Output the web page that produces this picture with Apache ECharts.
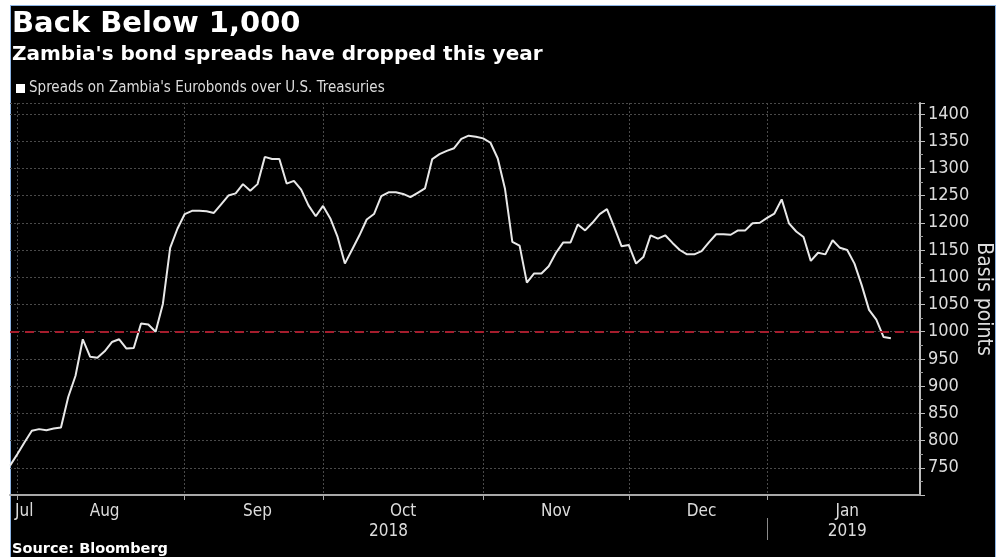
<!DOCTYPE html>
<html>
<head>
<meta charset="utf-8">
<script src="https://cdn.jsdelivr.net/npm/echarts@6/dist/echarts.min.js"></script>
<style>
html,body{margin:0;padding:0;background:#ffffff;}
#frame{position:absolute;left:10px;top:5px;width:984px;height:560px;background:#000;border-left:1px solid #8cb4e4;border-top:1px solid #8cb4e4;border-right:1px solid #8cb4e4;}
#c{position:absolute;left:0;top:0;width:1003px;height:557px;}
</style>
</head>
<body>
<div id="frame"></div>
<div id="c"></div>
<script>
// ---------- data ----------
const titleText = 'Back Below 1,000';
const subtitleText = "Zambia's bond spreads have dropped this year";
const seriesName = "Spreads on Zambia's Eurobonds over U.S. Treasuries";
const sourceText = 'Source: Bloomberg';
const axisName = 'Basis points';

// trading-day calendar (US bond market) used for the category axis
const firstDay = '2018-07-31';
const lastDay = '2019-02-01';
const holidays = ['2018-09-03','2018-10-08','2018-11-12','2018-11-22','2018-12-05','2018-12-25','2019-01-01','2019-01-21'];
const monthNames = ['Jan','Feb','Mar','Apr','May','Jun','Jul','Aug','Sep','Oct','Nov','Dec'];

// spread values (bp), one per trading day from 2018-07-31
const spreads = [
  754, 775, 797, 818, 821, 819, 822, 824, 880, 919,
  986, 954, 952, 964, 981, 986, 969, 970, 1015, 1013,
  1000, 1051, 1154, 1189, 1216, 1222, 1222, 1221, 1218, 1234,
  1250, 1254, 1271, 1259, 1271, 1321, 1317, 1317, 1272, 1277,
  1261, 1232, 1212, 1231, 1208, 1174, 1125, 1151, 1177, 1206,
  1216, 1249, 1256, 1256, 1253, 1247, 1255, 1263, 1317, 1326,
  1332, 1337, 1354, 1360, 1358, 1355, 1347, 1318, 1262, 1165,
  1158, 1090, 1107, 1107, 1120, 1145, 1164, 1164, 1197, 1186,
  1200, 1216, 1225, 1192, 1157, 1159, 1125, 1137, 1177, 1171,
  1177, 1163, 1150, 1142, 1142, 1148, 1164, 1179, 1179, 1178,
  1186, 1186, 1199, 1200, 1209, 1217, 1243, 1199, 1184, 1174,
  1130, 1145, 1142, 1168, 1154, 1150, 1125, 1085, 1040, 1022,
  990, 988
];
const thresholdValue = 1000;

// y axis ticks
const yMin = 700;
const yMax = 1420;
const yStep = 50;
const yFirstLabel = 750;
const yLastLabel = 1400;

// ---------- build categories ----------
function buildDays() {
  const out = [];
  let t = Date.parse(firstDay + 'T00:00:00Z');
  const end = Date.parse(lastDay + 'T00:00:00Z');
  while (t <= end) {
    const d = new Date(t);
    const s = d.toISOString().slice(0, 10);
    const w = d.getUTCDay();
    if (w !== 0 && w !== 6 && holidays.indexOf(s) < 0) out.push(s);
    t += 86400000;
  }
  return out;
}
const days = buildDays();
const N = days.length;

const monthStarts = [];
const yearStarts = [];
for (let i = 1; i < N - 1; i++) {
  if (days[i].slice(0, 7) !== days[i - 1].slice(0, 7)) monthStarts.push(i);
  if (days[i].slice(0, 4) !== days[i - 1].slice(0, 4)) yearStarts.push(i);
}
const monthStartSet = new Set(monthStarts);
const yearStartSet = new Set(yearStarts);

// month label positions: middle of each month segment
const monthLabelAt = {};
const segs = [0].concat(monthStarts).concat([N - 1]);
for (let k = 0; k < segs.length - 1; k++) {
  const a = segs[k], b = segs[k + 1];
  const idx = k === 0 ? 0 : Math.round((a + b) / 2);
  monthLabelAt[idx] = monthNames[parseInt(days[a].slice(5, 7), 10) - 1];
}
const yearLabelAt = {};
const ysegs = [0].concat(yearStarts).concat([N - 1]);
for (let k = 0; k < ysegs.length - 1; k++) {
  const a = ysegs[k], b = ysegs[k + 1];
  yearLabelAt[Math.round((a + b) / 2)] = days[a].slice(0, 4);
}

const narrow = "'Liberation Sans Narrow','DejaVu Sans Condensed','Roboto Condensed',sans-serif";
const boldFont = "'DejaVu Sans',Verdana,sans-serif";
const textCol = '#dcdcdc';

const chart = echarts.init(document.getElementById('c'), null, {renderer: 'canvas'});
chart.setOption({
  backgroundColor: 'transparent',
  animation: false,
  title: [
    {
      text: titleText,
      subtext: subtitleText,
      left: 12, top: 10, padding: 0, itemGap: 6,
      textStyle: {color: '#ffffff', fontSize: 29, fontWeight: 'bold', fontFamily: boldFont},
      subtextStyle: {color: '#ffffff', fontSize: 20, fontWeight: 'bold', fontFamily: boldFont}
    },
    {
      text: sourceText,
      left: 12, top: 542, padding: 0,
      textStyle: {color: '#ffffff', fontSize: 14.5, fontWeight: 'bold', fontFamily: boldFont}
    }
  ],
  legend: {
    left: 16, top: 81, padding: 0,
    icon: 'rect', itemWidth: 9, itemHeight: 9, itemGap: 4,
    textStyle: {color: textCol, fontSize: 15, fontFamily: narrow, padding: [0, 0, 0, -1]},
    data: [seriesName]
  },
  grid: {left: 10, right: 83, top: 103, bottom: 62, containLabel: false, outerBoundsMode: 'none'},
  xAxis: [
    {
      type: 'category',
      data: days,
      boundaryGap: false,
      axisLine: {show: true, lineStyle: {color: '#a8a8a8', width: 2}},
      axisTick: {show: true, length: 5, interval: (i) => monthStartSet.has(i), lineStyle: {color: '#a8a8a8'}},
      splitLine: {show: true, interval: (i) => monthStartSet.has(i), lineStyle: {color: '#4a4a4a', type: [2, 2], width: 1}},
      axisLabel: {
        interval: (i) => monthLabelAt[i] !== undefined,
        formatter: (v, i) => (i === 0 ? '{first|' + monthLabelAt[i] + '}' : monthLabelAt[i]),
        alignMinLabel: 'left',
        color: textCol, fontSize: 17, fontFamily: narrow, margin: 8,
        rich: {first: {color: textCol, fontSize: 17, fontFamily: narrow, padding: [0, 0, 0, 5]}}
      }
    },
    {
      type: 'category',
      data: days,
      boundaryGap: false,
      position: 'bottom',
      offset: 23,
      axisLine: {show: false},
      axisTick: {show: true, length: 22, interval: (i) => yearStartSet.has(i), lineStyle: {color: '#8a8a8a'}},
      splitLine: {show: false},
      axisLabel: {
        interval: (i) => yearLabelAt[i] !== undefined,
        formatter: (v, i) => yearLabelAt[i],
        color: textCol, fontSize: 17, fontFamily: narrow, margin: 5
      }
    }
  ],
  yAxis: {
    type: 'value',
    position: 'right',
    min: yMin, max: yMax, interval: yStep,
    name: axisName,
    nameLocation: 'middle',
    nameRotate: -90,
    nameGap: 53,
    nameMoveOverlap: false,
    nameTextStyle: {color: textCol, fontSize: 21, fontFamily: narrow},
    axisLine: {show: true, lineStyle: {color: '#bdbdbd', width: 2}},
    axisTick: {show: true, length: 5, lineStyle: {color: '#bdbdbd'}},
    minorTick: {show: true, splitNumber: 2, length: 3, lineStyle: {color: '#9a9a9a'}},
    splitLine: {show: true, lineStyle: {color: '#4a4a4a', type: [2, 2], width: 1}},
    axisLabel: {
      color: textCol, fontSize: 18, fontFamily: narrow, margin: 8,
      formatter: (v) => (v >= yFirstLabel && v <= yLastLabel && v % yStep === 0 ? String(v) : '')
    }
  },
  series: [
    {
      name: seriesName,
      type: 'line',
      data: spreads,
      xAxisIndex: 0,
      showSymbol: false,
      symbol: 'none',
      lineStyle: {color: '#e8e8e8', width: 2},
      itemStyle: {color: '#ffffff'},
      markLine: {
        silent: true,
        symbol: ['none', 'none'],
        label: {show: false},
        lineStyle: {color: '#a51d2d', type: [9, 6], width: 2},
        data: [{yAxis: thresholdValue}]
      },
      z: 3
    }
  ]
});
</script>
</body>
</html>
